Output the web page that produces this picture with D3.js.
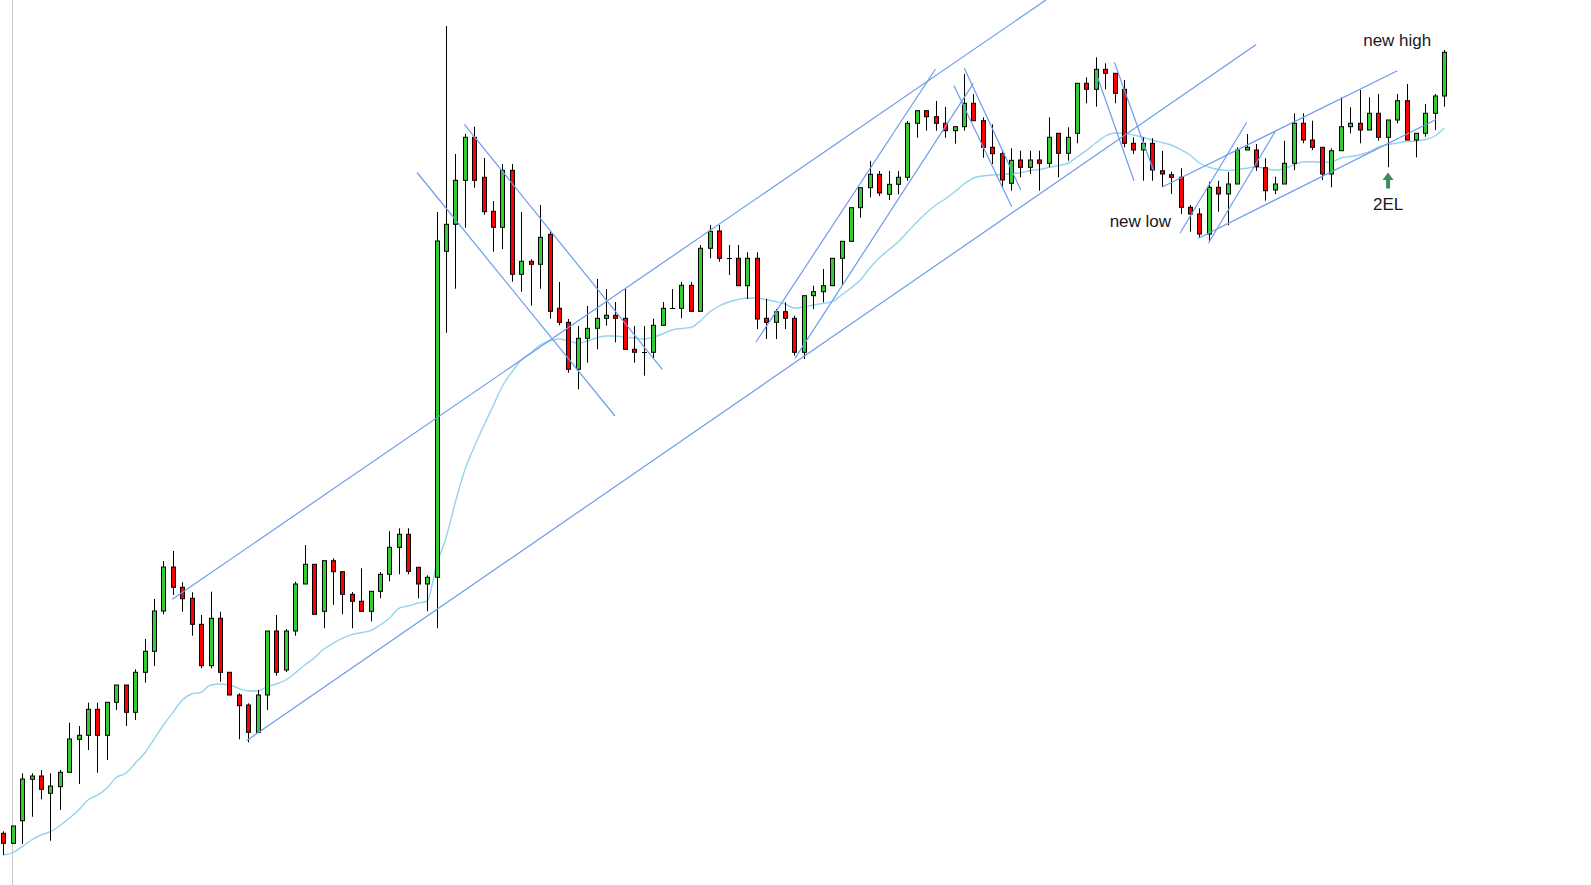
<!DOCTYPE html>
<html>
<head>
<meta charset="utf-8">
<script src="https://cdn.jsdelivr.net/npm/d3@7"></script>
<style>
  html, body { margin: 0; padding: 0; background: #ffffff; }
  svg { display: block; }
</style>
</head>
<body>
<svg id="chart" width="1591" height="885"></svg>
<script>
// ---- data (price units) ----
const openV = [
  66.7,56.7,79.3,120.7,124,106.7,113.3,127.7,160.7,164.7,
  190.7,164.7,197.7,215,187.7,227.7,248.7,289,333,312.7,
  301.7,275.7,234.3,281.7,227.7,205,195,167.7,205,269,
  230,269,316,335.7,288.7,339.3,328.3,305.7,298.7,288.7,
  308.7,325.7,352.7,365.7,332.7,316,322.7,648.7,675.7,719.7,
  762.7,722.7,688.7,672.7,729.7,625.7,638.7,635.7,665.7,591.7,
  577.7,530.7,561.7,571.7,581.7,584.7,581.7,550.7,547.7,547.7,
  574.7,591.7,591.7,614.7,588.7,651.7,669,641.7,641.7,614.3,
  641.7,581.7,577.7,588.3,581.7,547.7,604.3,608.3,614.3,641.7,
  658.7,692.3,712.3,725.7,705.7,715.7,722.7,776.7,789.3,783.3,
  776.7,769.3,773.3,796.7,779.3,752.7,746.3,716.7,740,732.7,
  740,736.7,766.7,746.7,766.7,816.7,810.7,830.7,826.7,810.7,
  756.7,750,756.7,729.3,725.3,722.7,692.7,686,666,712.7,
  706,716,750,750,732.3,710,716,736.7,776.7,760,
  752.7,726,749.3,773.3,776.7,770,786.7,762.7,780,799.3,
  760,766.7,786.7,804
];
const closeV = [
  56.7,74,121,124,110.7,114,127.7,161,164.7,190.7,
  164.7,197.7,215,187.7,227.7,248.7,289,333,312.7,301.3,
  275.7,234.3,281.7,227.7,205,194.3,167.7,205,269,227.7,
  269,316,335.7,285.7,339.3,328.3,305.7,298.7,288.7,308.7,
  325.7,352.7,365.7,328.7,316,322.7,659,675.7,719.7,762.7,
  719.7,688.3,672.7,729.7,625.7,638.7,635.7,662.7,588.7,577.7,
  530.7,561.7,571.7,581.7,584.7,581.7,550.7,547.7,547.7,574.7,
  591.7,591.7,614.7,588.7,651.7,668.7,641.7,641.7,614.3,641.7,
  581,577.7,588.3,581.7,547.7,604.3,608.3,614.3,641.7,658.7,
  692.3,712.3,725.7,707,715.7,722.7,776.7,789.3,783.3,776.7,
  769.3,773.3,796.7,779.3,752.7,746.3,720,739.7,732.7,740,
  736.7,762.7,746.7,762.7,816.7,810.7,830.7,826.7,806.7,756.7,
  750,756.7,730,726,722.7,692.7,686,666,712.7,706,
  716,750,752.7,733.3,709.3,716,736.7,776.7,760,752.7,
  726,749.3,773.3,776.7,770,786.7,762.7,780,799.3,760,
  766.7,786.7,804,847.7
];
const highV = [
  68.7,74,126.7,126.7,130,126.7,130,177.3,174,197.3,
  197.3,197.7,215,215,230.7,261,301,339,349,317.7,
  307.7,285,308.3,288.3,227.7,206.7,196.7,210,269,285,
  271,318.3,355,335.7,339.3,341.7,328.3,308,331.7,308.7,
  328,368.7,371.7,371.7,332.7,324.7,688,874,746,766,
  773.3,742,699,736,736,688,640.7,695,668.3,618,
  581,574,594,621,611,598,611,574,574,581.3,
  598,611,618,618,655,675,675,655,655,647.7,
  647.7,601,591,597.7,584.3,604.3,614.3,631,641.7,658.7,
  692.3,712.3,739,729,729,729,779,789.3,789.3,799,
  793,773.3,826,806,782.7,775.7,749.7,751.7,749.3,749.3,
  749.3,782.7,766.7,772.7,816.7,822.7,842.7,836.7,826.7,820,
  762.7,762.7,761.7,749,728.3,731.7,695,691.7,718.3,719.3,
  728,752.7,766,756,741.7,723.3,759.3,786.7,786.7,779.3,
  752.7,751.7,802.7,792.7,810,802.7,806,780,806,816,
  766.7,796,806,850
];
const lowV = [
  45,56.7,56,83.3,100.7,59.3,90,127.7,116,150,
  127.3,140,190,174,180,217.3,234,285.7,305,288.3,
  264.3,231.7,231.7,218.3,205,160.7,157.7,167.7,190,224.3,
  228,264.3,316,285.7,271.7,295.3,285.7,271.7,288.7,278.7,
  301.7,318.7,325.7,325.7,301.7,288.7,271.7,567.3,611.3,672.3,
  712.3,685.3,648.3,651,618.3,608.3,594.3,611.3,581.3,574.7,
  527.3,510.7,537.3,550.7,574.3,557.7,550.7,537.3,524.3,541,
  574.7,591.7,581.7,588.7,588.7,641.7,638.3,625,614.3,601,
  571,561,561,571,544.3,541,591,597.7,614.3,614.3,
  658.7,682.3,702.7,704,700,705.7,719.3,762.3,769.3,769.3,
  762.3,756.3,769.3,779.3,742.3,736,712.7,709.3,722.7,726,
  709.3,732.7,722.7,739.3,756.7,796.7,793.3,810.7,796.7,752.7,
  746,719.3,719.3,713.3,706,686,668.3,662.7,658.3,688.3,
  674.7,716,750,729,699.3,706,716,730,756.7,750,
  720,712.7,749.3,766.7,756.7,770,759.3,732.7,776.7,760,
  742.7,763.3,770,793.3
];
// moving average
const maV = [
  45,47.3,53.3,60,65,68.3,74.3,81.7,90,100,
  105,111.7,122.7,126.7,136.7,146.7,160.7,175,187.3,200,
  206,207.7,215,216,215,211.7,209,209,213.3,216,
  220,227,235,242,250.7,256.7,261.7,265.3,267.3,269.3,
  275,281.7,291.7,294,296.7,299,335,362,398,430,
  453,474,494,514,528,540,547,555,559,561,
  559,557,559,562,564,564,563,562,561,563,
  566,570,571.5,572.5,579,588,594,598,600.5,602,
  602,600.5,598.5,596,592,593,595,596.5,598.3,605,
  612,620,632,642,650,658,668,678,687,695,
  701,708,716,722,724,725,725.5,726.5,727.3,729.3,
  730.5,732.5,734.5,736.5,743,749.5,757,764,767,766.7,
  765,762.7,760,757.5,755,750.5,745,737,733,730.5,
  729.5,730.5,731.7,733.3,731.5,730,731.3,735,738,738.3,
  737.7,738,742,743.5,745,748,753,755.5,757,758.5,
  759,760.5,764,772
];
// trend lines: [bar1, price1, bar2, price2]
const trendLines = [
  [17.94, 300.7, 110.7, 900],
  [25.83, 159.3, 133.03, 855.4],
  [43.93, 727.5, 64.95, 484],
  [48.95, 775.7, 69.97, 530.7],
  [79.92, 558, 98.98, 831],
  [84.06, 541.7, 103.0, 816.7],
  [100.94, 814.3, 107.07, 693.3],
  [102.04, 831.7, 108.03, 710],
  [116.1, 825, 120.06, 719],
  [117.97, 837.7, 122.1, 730],
  [123.0, 712.7, 148.02, 829.3],
  [126.85, 661.5, 152.12, 780.5],
  [124.94, 666.7, 132.02, 777.7],
  [127.95, 656.7, 135.03, 768.3]
];
const labelTexts = ["new high", "new low", "2EL"];
const labelBars = [148.0, 120.73, 147.03];
const labelPrices = [854, 673.3, 690];
const arrowBar = 147.03, arrowTop = 727.5, arrowBottom = 711.5;
const separatorBar = 0.96;

// ---- drawing ----
const W = 1591, H = 885;
const svg = d3.select("#chart");
const n = openV.length;
const x = d3.scaleLinear().domain([0, n - 1]).range([3.3, 1444.3]);
const y = d3.scaleLinear().domain([0, 900]).range([900, 0]);

svg.append("rect").attr("width", W).attr("height", H).attr("fill", "#fff");

// separator line
svg.append("line")
  .attr("x1", Math.round(x(separatorBar)) + 0.5).attr("x2", Math.round(x(separatorBar)) + 0.5)
  .attr("y1", 0).attr("y2", H)
  .attr("stroke", "#c8c8c8").attr("stroke-width", 1);

svg.append("clipPath").attr("id", "clip")
  .append("rect").attr("width", W).attr("height", H);

// moving average
const maLine = d3.line()
  .x((d, i) => x(i)).y(d => y(d))
  .curve(d3.curveMonotoneX);
svg.append("path").datum(maV)
  .attr("d", maLine)
  .attr("fill", "none")
  .attr("stroke", "#96d2ee")
  .attr("stroke-width", 1.4);

// candles
const idx = d3.range(n);
const g = svg.append("g");
const cand = g.selectAll("g.c").data(idx).join("g").attr("class", "c");
cand.append("line")
  .attr("x1", i => Math.round(x(i)) + 0.5)
  .attr("x2", i => Math.round(x(i)) + 0.5)
  .attr("y1", i => y(highV[i]))
  .attr("y2", i => y(lowV[i]))
  .attr("stroke", "#000").attr("stroke-width", 1);
cand.each(function(i) {
  const sel = d3.select(this);
  const o = openV[i], c = closeV[i];
  const cx = Math.round(x(i));
  const top = y(Math.max(o, c)), bot = y(Math.min(o, c));
  if (bot - top < 0.8) {
    sel.append("line")
      .attr("x1", cx - 2).attr("x2", cx + 3)
      .attr("y1", Math.round(top) + 0.5).attr("y2", Math.round(top) + 0.5)
      .attr("stroke", "#000").attr("stroke-width", 1);
  } else {
    sel.append("rect")
      .attr("x", cx - 1.5).attr("width", 4)
      .attr("y", top).attr("height", bot - top)
      .attr("fill", c >= o ? "#33cc33" : "#ff0000")
      .attr("stroke", "#000").attr("stroke-width", 1);
  }
});

// trend lines
svg.append("g").attr("clip-path", "url(#clip)")
  .selectAll("line").data(trendLines).join("line")
  .attr("x1", d => x(d[0])).attr("y1", d => y(d[1]))
  .attr("x2", d => x(d[2])).attr("y2", d => y(d[3]))
  .attr("stroke", "#6d9bef").attr("stroke-width", 1.2);

// labels
svg.append("g").selectAll("text").data(labelTexts).join("text")
  .attr("x", (d, i) => x(labelBars[i]))
  .attr("y", (d, i) => y(labelPrices[i]))
  .attr("text-anchor", "middle")
  .attr("font-family", "Liberation Sans, Arial, sans-serif")
  .attr("font-size", 17)
  .attr("fill", "#1a1a1a")
  .text(d => d);

// arrow
const ax = x(arrowBar), at = y(arrowTop), ab = y(arrowBottom);
svg.append("path")
  .attr("d", `M${ax},${at} L${ax + 5.5},${at + 7.5} L${ax + 2},${at + 7.5} L${ax + 2},${ab} L${ax - 2},${ab} L${ax - 2},${at + 7.5} L${ax - 5.5},${at + 7.5} Z`)
  .attr("fill", "#3f8a5c");
</script>
</body>
</html>
